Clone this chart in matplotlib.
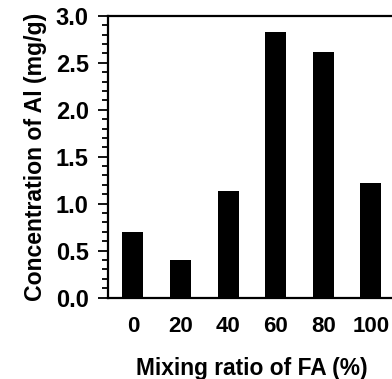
import numpy as np
import matplotlib
matplotlib.use("Agg")
import matplotlib.pyplot as plt
from matplotlib.ticker import MultipleLocator

plt.rcParams['font.family'] = ['Liberation Sans', 'DejaVu Sans']
plt.rcParams['font.weight'] = 'bold'

ratios = ['0', '20', '40', '60', '80', '100']
al_conc = [0.70, 0.40, 1.13, 2.83, 2.62, 1.22]

fig = plt.figure(figsize=(3.92, 3.79), dpi=100)
ax = fig.add_axes([0.276, 0.215, 0.733, 0.743])
x = np.arange(len(ratios))
ax.bar(x, al_conc, width=0.44, color='black')

ax.set_xlim(-0.52, 5.52)
ax.set_ylim(0, 3.0)
ax.set_xticks(x)
ax.set_xticklabels(ratios)
ax.yaxis.set_major_locator(MultipleLocator(0.5))
ax.yaxis.set_minor_locator(MultipleLocator(0.1))
ax.yaxis.set_major_formatter(plt.FormatStrFormatter('%.1f'))
ax.tick_params(axis='x', length=0, pad=13, labelsize=16)
ax.tick_params(axis='y', which='major', length=7, width=1.3, labelsize=17, pad=7)
ax.tick_params(axis='y', which='minor', length=4, width=1.3)
for s in ['left', 'bottom', 'top']:
    ax.spines[s].set_linewidth(1.6)
ax.spines['right'].set_visible(False)

ax.set_xlabel('Mixing ratio of FA (%)', fontsize=16.4, fontweight='bold', labelpad=15)
ax.set_ylabel('Concentration of Al (mg/g)', fontsize=16.6, fontweight='bold', labelpad=6)

fig.savefig('out.png', dpi=100)
